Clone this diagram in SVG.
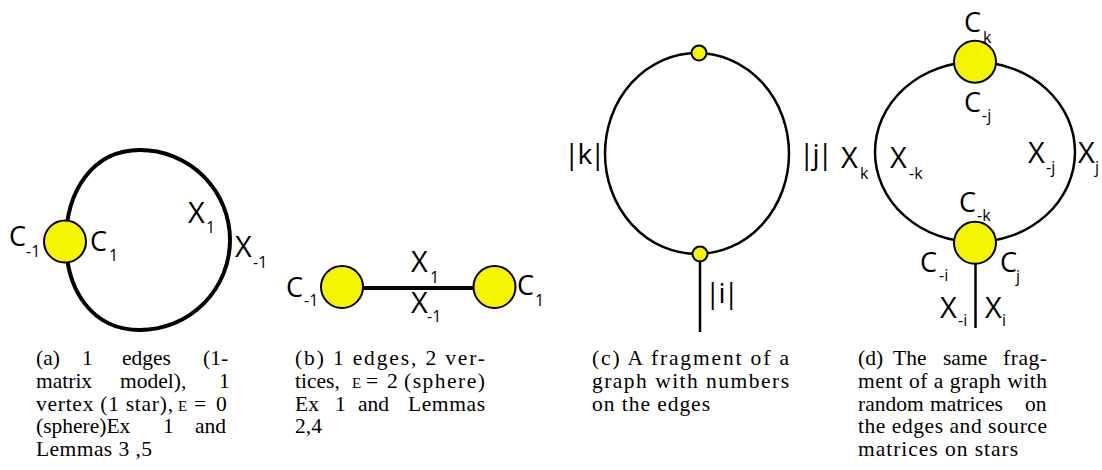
<svg xmlns="http://www.w3.org/2000/svg" width="1102" height="470" viewBox="0 0 1102 470">
<style>
.v{fill:#f5f500;stroke:#000;stroke-width:2}
.e{fill:none;stroke:#000}
.L{font-family:"Open Sans","DejaVu Sans",sans-serif;font-size:27px;fill:#000}
.X{font-family:"Open Sans","DejaVu Sans",sans-serif;font-size:29px;fill:#000}
.s{font-family:"Open Sans","DejaVu Sans",sans-serif;font-size:16px;fill:#000}
.b{font-family:"Open Sans","DejaVu Sans",sans-serif;font-size:28px;letter-spacing:-2px;fill:#000}
.c{font-family:"Liberation Serif","Times New Roman",serif;font-size:21.5px;fill:#000}
.sc{font-size:15px}
</style>
<g id="connectors">
<path class="e" stroke-width="4" d="M66,241 C66,192 92,150 140,150 A90,90 0 0 1 140,330 C92,330 66,290 66,241 Z"/>
<line class="e" stroke-width="4" x1="363" y1="288" x2="473" y2="288"/>
<ellipse class="e" stroke-width="2.5" cx="697" cy="153.5" rx="92" ry="100.5"/>
<line class="e" stroke-width="2.5" x1="700" y1="262" x2="700" y2="332"/>
<ellipse class="e" stroke-width="2.5" cx="975" cy="152" rx="100" ry="90"/>
<line class="e" stroke-width="2.5" x1="975.5" y1="264" x2="975.5" y2="328"/>
</g>
<g id="a-vertex">
<circle class="v" cx="65" cy="241.5" r="21"/>
<text class="L" x="9" y="246">C</text><text class="s" x="26" y="257">-1</text>
<text class="L" x="90" y="251">C</text><text class="s" x="109" y="261">1</text>
</g>
<g id="a-edge">
<text class="X" x="188" y="223">X</text><text class="s" x="206" y="233">1</text>
<text class="X" x="235" y="257">X</text><text class="s" x="253" y="268">-1</text>
</g>
<g id="b-left">
<circle class="v" cx="342" cy="287" r="21"/>
<text class="L" x="286" y="297">C</text><text class="s" x="304" y="306">-1</text>
</g>
<g id="b-right">
<circle class="v" cx="494.5" cy="287" r="21"/>
<text class="L" x="517" y="295">C</text><text class="s" x="535" y="306">1</text>
</g>
<g id="b-edge">
<text class="X" x="411" y="272">X</text><text class="s" x="430" y="283">1</text>
<text class="X" x="411" y="313">X</text><text class="s" x="427" y="322">-1</text>
</g>
<g id="c-top"><circle class="v" cx="699" cy="53" r="7.5" stroke-width="1.2"/></g>
<g id="c-bottom"><circle class="v" cx="700" cy="254" r="7.5" stroke-width="1.2"/></g>
<g id="c-labels">
<text class="b" x="564" y="164">|k|</text>
<text class="b" x="799" y="164">|j|</text>
<text class="b" x="705" y="303">|i|</text>
</g>
<g id="d-top">
<circle class="v" cx="975" cy="61.7" r="21"/>
<text class="L" x="964" y="32">C</text><text class="s" x="983" y="43">k</text>
<text class="L" x="964" y="112">C</text><text class="s" x="982" y="121">-j</text>
</g>
<g id="d-bottom">
<circle class="v" cx="975" cy="242.8" r="21"/>
<text class="L" x="959" y="212">C</text><text class="s" x="977" y="221">-k</text>
<text class="L" x="920" y="272">C</text><text class="s" x="939" y="281">-i</text>
<text class="L" x="1000" y="272">C</text><text class="s" x="1016" y="282">j</text>
</g>
<g id="d-edges">
<text class="X" x="841" y="168">X</text><text class="s" x="860" y="179">k</text>
<text class="X" x="890" y="168">X</text><text class="s" x="909" y="179">-k</text>
<text class="X" x="1028" y="163">X</text><text class="s" x="1046" y="173">-j</text>
<text class="X" x="1078" y="163">X</text><text class="s" x="1095" y="173">j</text>
<text class="X" x="940" y="318">X</text><text class="s" x="958" y="326">-i</text>
<text class="X" x="985" y="318">X</text><text class="s" x="1002" y="326">i</text>
</g>
<g id="caption-a" class="c">
<text x="36" y="365">(a)</text><text x="82" y="365">1</text><text x="122" y="365">edges</text><text x="203" y="365">(1-</text>
<text x="36" y="388">matrix</text><text x="120" y="388">model),</text><text x="219" y="388">1</text>
<text x="36" y="411" textLength="137" lengthAdjust="spacing">vertex (1 star),</text><text x="178" y="411" class="sc">E</text><text x="194" y="411">=</text><text x="216" y="411">0</text>
<text x="36" y="433">(sphere)Ex</text><text x="163" y="433">1</text><text x="195" y="433">and</text>
<text x="36" y="456" textLength="116" lengthAdjust="spacing">Lemmas 3 ,5</text>
</g>
<g id="caption-b" class="c">
<text x="295" y="365" textLength="190" lengthAdjust="spacing">(b) 1 edges, 2 ver-</text>
<text x="295" y="388">tices,</text><text x="352" y="388" class="sc">E</text><text x="366" y="388">=</text><text x="387" y="388">2</text><text x="404" y="388" textLength="81" lengthAdjust="spacing">(sphere)</text>
<text x="295" y="411">Ex</text><text x="335" y="411">1</text><text x="358" y="411">and</text><text x="408" y="411" textLength="77" lengthAdjust="spacing">Lemmas</text>
<text x="295" y="433">2,4</text>
</g>
<g id="caption-c" class="c">
<text x="592" y="365" textLength="197" lengthAdjust="spacing">(c) A fragment of a</text>
<text x="592" y="388" textLength="197" lengthAdjust="spacing">graph with numbers</text>
<text x="592" y="411" textLength="118" lengthAdjust="spacing">on the edges</text>
</g>
<g id="caption-d" class="c">
<text x="858" y="365">(d)</text><text x="893" y="365">The</text><text x="943" y="365">same</text><text x="1003" y="365" textLength="44" lengthAdjust="spacing">frag-</text>
<text x="858" y="388" textLength="189" lengthAdjust="spacing">ment of a graph with</text>
<text x="858" y="411">random</text><text x="930" y="411">matrices</text><text x="1025" y="411">on</text>
<text x="858" y="433" textLength="189" lengthAdjust="spacing">the edges and source</text>
<text x="858" y="456" textLength="160" lengthAdjust="spacing">matrices on stars</text>
</g>
</svg>
